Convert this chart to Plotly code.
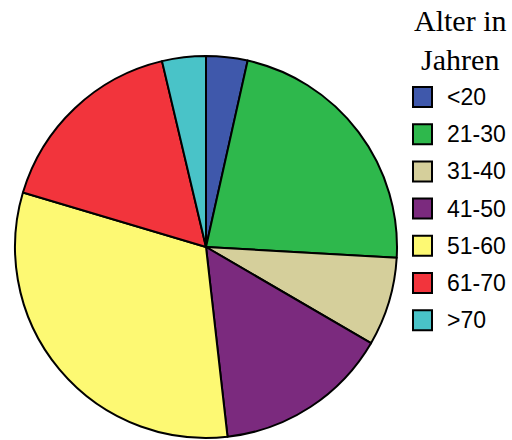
import plotly.graph_objects as go

# Age distribution (percent of respondents)
categories = ["<20", "21-30", "31-40", "41-50", "51-60", "61-70", ">70"]
shares = [3.5, 22.4, 7.5, 14.8, 31.4, 16.7, 3.7]
colors = ["#3F58AB", "#2EB84C", "#D5CF9B", "#7B2A7E", "#FDF973", "#F2343C", "#49C3C8"]
legend_title = "Alter in<br>Jahren"

W, H = 512, 440

fig = go.Figure()
fig.add_trace(go.Pie(
    labels=categories,
    values=shares,
    sort=False,
    direction="clockwise",
    rotation=0,
    marker=dict(colors=colors, line=dict(color="black", width=2)),
    textinfo="none",
    hoverinfo="label+percent",
    showlegend=False,
    domain=dict(x=[15 / W, 397 / W], y=[2 / H, 384 / H]),
))

# Hand-built legend: square swatches with labels, stacked below the title
shapes = []
annotations = []
x0, x1 = 413, 432
y_first, step = 97, 37.2
for i, (cat, col) in enumerate(zip(categories, colors)):
    yc = y_first + i * step
    shapes.append(dict(
        type="rect", xref="paper", yref="paper",
        x0=x0 / W, x1=x1 / W,
        y0=1 - (yc + 10) / H, y1=1 - (yc - 10) / H,
        fillcolor=col, line=dict(color="black", width=2),
    ))
    annotations.append(dict(
        text=cat, xref="paper", yref="paper",
        x=445 / W, y=1 - yc / H, xanchor="left", yanchor="middle",
        showarrow=False,
        font=dict(family="Liberation Sans, Arial, sans-serif", size=23, color="black"),
    ))

annotations.append(dict(
    text=legend_title, xref="paper", yref="paper",
    x=460 / W, y=1 - 2 / H, xanchor="center", yanchor="top",
    showarrow=False, align="center",
    font=dict(family="Liberation Serif, Times New Roman, serif", size=30, color="black"),
))

fig.update_layout(
    width=W, height=H,
    margin=dict(l=0, r=0, t=0, b=0),
    paper_bgcolor="white",
    plot_bgcolor="white",
    shapes=shapes,
    annotations=annotations,
)

fig.write_html("out.html")
